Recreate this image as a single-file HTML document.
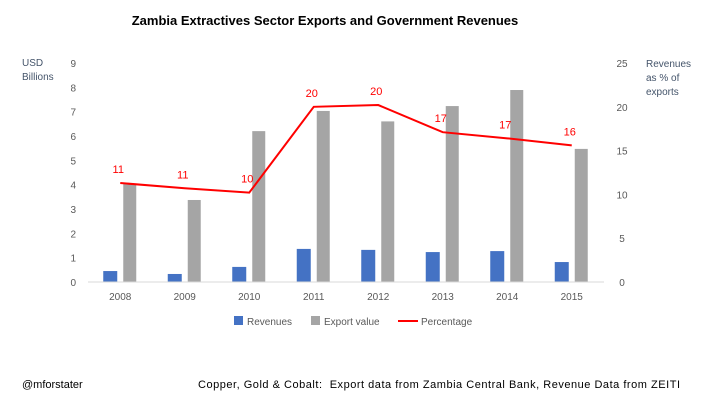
<!DOCTYPE html>
<html><head><meta charset="utf-8"><style>
body{margin:0;background:#fff;font-family:"Liberation Sans",sans-serif}
svg text{font-family:"Liberation Sans",sans-serif}
</style></head><body>
<svg width="720" height="405" id="c">
<text x="325" y="25" text-anchor="middle" font-size="13" font-weight="bold" fill="#000">Zambia Extractives Sector Exports and Government Revenues</text>
<text x="22" y="66" font-size="10" fill="#44546a">USD</text>
<text x="22" y="80" font-size="10" fill="#44546a">Billions</text>
<text x="646" y="67" font-size="10" fill="#44546a">Revenues</text>
<text x="646" y="81" font-size="10" fill="#44546a">as % of</text>
<text x="646" y="95" font-size="10" fill="#44546a">exports</text>
<g id="plot"></g>
<g>
<rect x="234" y="316" width="9" height="9" fill="#4472c4"/>
<text x="247" y="325" font-size="10" fill="#595959">Revenues</text>
<rect x="311" y="316" width="9" height="9" fill="#a5a5a5"/>
<text x="324" y="325" font-size="10" fill="#595959">Export value</text>
<line x1="398" y1="321" x2="418" y2="321" stroke="#ff0000" stroke-width="2"/>
<text x="421" y="325" font-size="10" fill="#595959">Percentage</text>
</g>
<text x="22" y="388" font-size="11" fill="#000">@mforstater</text>
<text x="198" y="388" font-size="11" fill="#000" textLength="482" lengthAdjust="spacing" xml:space="preserve">Copper, Gold &amp; Cobalt:  Export data from Zambia Central Bank, Revenue Data from ZEITI</text>
</svg>
<script>
const categories=["2008","2009","2010","2011","2012","2013","2014","2015"];
const revenues=[0.45,0.33,0.62,1.36,1.32,1.23,1.27,0.82];
const exportsV=[4.03,3.37,6.2,7.03,6.6,7.23,7.89,5.47];
const percentage=[11.3,10.7,10.2,20.0,20.2,17.1,16.4,15.6];
const pctLabels=["11","11","10","20","20","17","17","16"];
const leftTicks=[0,1,2,3,4,5,6,7,8,9];
const rightTicks=[0,5,10,15,20,25];
const L=88,R=604,Y0=282,Y1=63;
const bw=(R-L)/categories.length;
const cx=i=>L+bw*(i+0.5);
const yL=v=>Y0-(v/9)*(Y0-Y1);
const yR=v=>Y0-(v/25)*(Y0-Y1);
const g=document.getElementById('plot');
const NS="http://www.w3.org/2000/svg";
function mk(t,a){const e=document.createElementNS(NS,t);for(const k in a)e.setAttribute(k,a[k]);g.appendChild(e);return e;}
leftTicks.forEach(v=>{const t=mk('text',{x:76,y:yL(v)+4,'text-anchor':'end','font-size':10,fill:'#595959'});t.textContent=v;

});
rightTicks.forEach(v=>{const t=mk('text',{x:622,y:yR(v)+4,'text-anchor':'middle','font-size':10,fill:'#595959'});t.textContent=v;

});
categories.forEach((c,i)=>{
const b1=mk('rect',{x:cx(i)-17,y:yL(revenues[i]),width:14,height:Y0-yL(revenues[i]),fill:'#4472c4'});


const b2=mk('rect',{x:cx(i)+3,y:yL(exportsV[i]),width:13,height:Y0-yL(exportsV[i]),fill:'#a5a5a5'});


const t=mk('text',{x:cx(i),y:Y0+18,'text-anchor':'middle','font-size':10,fill:'#595959'});t.textContent=c;


});
const ax=mk('line',{x1:L,y1:Y0,x2:R,y2:Y0,stroke:'#d9d9d9','stroke-width':1});


const ln=mk('polyline',{points:percentage.map((v,i)=>cx(i)+','+yR(v)).join(' '),fill:'none',stroke:'#ff0000','stroke-width':2});


percentage.forEach((v,i)=>{const t=mk('text',{x:cx(i)-2,y:yR(v)-10,'text-anchor':'middle','font-size':11,fill:'#ff0000'});t.textContent=pctLabels[i];

});
</script>
</body></html>
